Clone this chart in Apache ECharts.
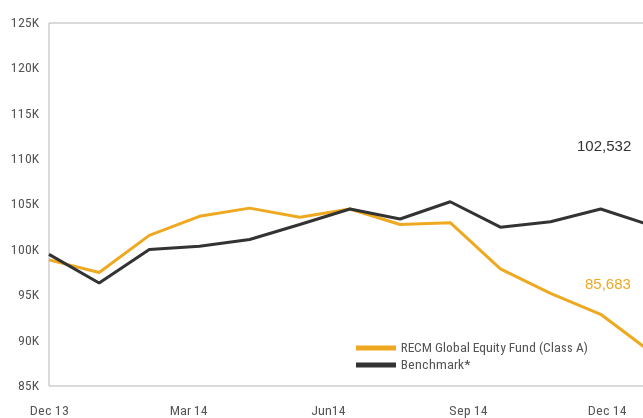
<!DOCTYPE html>
<html>
<head>
<meta charset="utf-8">
<script src="https://cdn.jsdelivr.net/npm/echarts@6/dist/echarts.min.js"></script>
<style>
  @font-face {
    font-family: 'AxisNarrow';
    src: local('Roboto Condensed'), local('RobotoCondensed-Regular'),
         local('DejaVu Sans Condensed');
  }
  html, body { margin: 0; padding: 0; background: #fff; overflow: hidden; }
  #chart { width: 760px; height: 418px; }
</style>
</head>
<body>
<div id="chart"></div>
<script>
// data points (month ends), last one runs off the right edge like the source
const periods = ['Dec 13', 'Jan 14', 'Feb 14', 'Mar 14', 'Apr 14', 'May 14', 'Jun 14',
  'Jul 14', 'Aug 14', 'Sep 14', 'Oct 14', 'Nov 14', 'Dec 14', 'Jan 15'];
const fund = [98900, 97500, 101600, 103700, 104600, 103600, 104500,
  102800, 103000, 97900, 95200, 92900, 88750, 85683];
const benchmark = [99500, 96350, 100050, 100400, 101150, 102800, 104500,
  103400, 105300, 102500, 103100, 104500, 102700, 102532];
// quarter labels on the time strip under the plot
const tickLabels = ['Dec 13', '', '', 'Mar 14', '', '', 'Jun14', '', '',
  'Sep 14', '', '', 'Dec 14', '', ''];
const fundEnd = '85,683';
const benchEnd = '102,532';

const narrow = "AxisNarrow, 'Roboto Condensed', sans-serif";
const orange = '#eea920';
const dark = '#333333';

function draw() {
  const chart = echarts.init(document.getElementById('chart'));
  const option = {
    animation: false,
    grid: {
      left: 49,
      top: 23,
      bottom: 31,
      right: 59,
      show: true,
      borderColor: '#b5b5b5',
      borderWidth: 1
    },
    legend: {
      orient: 'vertical',
      left: 351,
      top: 336,
      itemWidth: 40,
      itemHeight: 5,
      itemGap: 3,
      icon: 'rect',
      textStyle: { fontFamily: narrow, fontSize: 13.5, color: '#555' },
      data: ['RECM Global Equity Fund (Class A)', 'Benchmark*']
    },
    xAxis: [{
      type: 'category',
      boundaryGap: false,
      data: periods,
      axisLine: { show: false },
      axisTick: { show: false },
      axisLabel: { show: false },
      splitLine: { show: false }
    }, {
      type: 'category',
      position: 'bottom',
      boundaryGap: false,
      data: tickLabels,
      axisLine: { show: false },
      axisTick: { show: false },
      splitLine: { show: false },
      axisLabel: {
        interval: 0,
        margin: 18,
        fontFamily: narrow,
        fontSize: 13.5,
        color: '#555'
      }
    }],
    yAxis: {
      type: 'value',
      min: 85000,
      max: 125000,
      interval: 5000,
      axisLine: { show: false },
      axisTick: { show: false },
      splitLine: { show: false },
      axisLabel: {
        margin: 10,
        fontFamily: narrow,
        fontSize: 13.5,
        color: '#555',
        formatter: v => (v / 1000) + 'K'
      }
    },
    series: [{
      name: 'RECM Global Equity Fund (Class A)',
      type: 'line',
      data: fund,
      symbol: 'none',
      color: orange,
      lineStyle: { width: 3, color: orange }
    }, {
      name: 'Benchmark*',
      type: 'line',
      data: benchmark,
      symbol: 'none',
      color: dark,
      lineStyle: { width: 3, color: dark }
    }],
    graphic: [{
      type: 'text',
      left: 577,
      top: 139,
      style: { text: benchEnd, fill: dark, font: "15px 'Liberation Sans', Arial, sans-serif" }
    }, {
      type: 'text',
      left: 585,
      top: 277,
      style: { text: fundEnd, fill: orange, font: "15px 'Liberation Sans', Arial, sans-serif" }
    }]
  };
  chart.setOption(option);
}

document.fonts.load("13px AxisNarrow").then(draw, draw);
</script>
</body>
</html>
